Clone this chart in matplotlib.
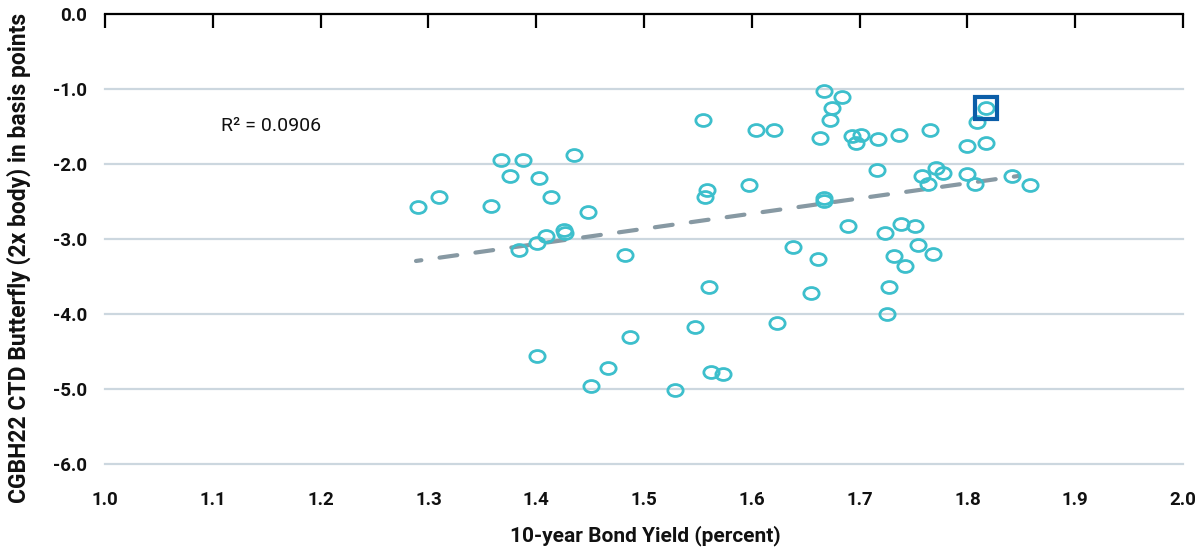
import matplotlib
matplotlib.use("Agg")
import matplotlib.pyplot as plt
from matplotlib.path import Path
from matplotlib.transforms import Affine2D
from matplotlib import font_manager as fm

# ---------------- data ----------------
bond_yield = [1.290, 1.310, 1.358, 1.367, 1.388, 1.376, 1.403, 1.414, 1.435, 1.448,
              1.384, 1.401, 1.409, 1.426, 1.427, 1.482, 1.401, 1.487, 1.467, 1.451,
              1.529, 1.555, 1.558, 1.557, 1.560, 1.547, 1.562, 1.573, 1.597, 1.604,
              1.621, 1.638, 1.623, 1.655, 1.661, 1.667, 1.684, 1.674, 1.673, 1.663,
              1.667, 1.667, 1.693, 1.701, 1.697, 1.717, 1.737, 1.716, 1.689, 1.724,
              1.738, 1.751, 1.732, 1.742, 1.754, 1.768, 1.727, 1.725, 1.758, 1.763,
              1.771, 1.777, 1.765, 1.800, 1.809, 1.817, 1.817, 1.800, 1.807, 1.841,
              1.858]
butterfly = [-2.58, -2.44, -2.56, -1.95, -1.95, -2.17, -2.19, -2.45, -1.89, -2.64,
             -3.15, -3.06, -2.96, -2.89, -2.93, -3.22, -4.57, -4.31, -4.72, -4.96,
             -5.02, -1.42, -2.35, -2.45, -3.65, -4.18, -4.78, -4.80, -2.29, -1.55,
             -1.55, -3.11, -4.12, -3.72, -3.27, -1.03, -1.11, -1.26, -1.42, -1.66,
             -2.46, -2.50, -1.63, -1.62, -1.72, -1.67, -1.62, -2.09, -2.83, -2.92,
             -2.80, -2.83, -3.23, -3.36, -3.09, -3.20, -3.64, -4.01, -2.16, -2.27,
             -2.06, -2.12, -1.55, -1.76, -1.45, -1.72, -1.26, -2.14, -2.27, -2.16,
             -2.28]
highlight_x = [1.817]
highlight_y = [-1.26]
trend_x = [1.2885, 1.8472]
trend_y = [-3.297, -2.164]
x_ticks = [1.0, 1.1, 1.2, 1.3, 1.4, 1.5, 1.6, 1.7, 1.8, 1.9, 2.0]
y_ticks = [0.0, -1.0, -2.0, -3.0, -4.0, -5.0, -6.0]
r2_text = "R² = 0.0906"
x_label = "10-year Bond Yield (percent)"
y_label = "CGBH22 CTD Butterfly (2x body) in basis points"

# ---------------- fonts ----------------
names = {f.name for f in fm.fontManager.ttflist}
font = "Liberation Sans Narrow" if "Liberation Sans Narrow" in names else "Roboto"
plt.rcParams["font.family"] = [font, "DejaVu Sans"]

TEAL = "#3DBFCC"
BLUE = "#0B5EA8"
GRID = "#CCD7DF"
TEXT = "#111111"

fig = plt.figure(figsize=(11.99, 5.5), dpi=100)
ax = fig.add_axes([105 / 1199, 1 - 463.7 / 550, (1183 - 105) / 1199, (463.7 - 13.7) / 550])
ax.set_xlim(1.0, 2.0)
ax.set_ylim(-6.0, 0.0)

# horizontal grid
for yv in y_ticks[1:]:
    ax.axhline(yv, color=GRID, lw=1.6, zorder=0, clip_on=False)

# spines
for s in ["left", "right", "bottom"]:
    ax.spines[s].set_visible(False)
ax.spines["top"].set_color("black")
ax.spines["top"].set_linewidth(1.6)

ax.set_xticks(x_ticks)
ax.set_xticklabels([f"{v:.1f}" for v in x_ticks])
ax.set_yticks(y_ticks)
ax.set_yticklabels([f"{v:.1f}" for v in y_ticks])
ax.tick_params(axis="x", top=True, bottom=False, labeltop=False, labelbottom=True,
               direction="in", length=10, width=1.6, color="black", pad=20)
ax.tick_params(axis="y", left=False, length=0, pad=13)
for lab in ax.get_xticklabels() + ax.get_yticklabels():
    lab.set_fontweight("bold")
    lab.set_fontsize(13.5)
    lab.set_color(TEXT)

# ellipse marker
ell = Path.unit_circle().transformed(Affine2D().scale(1.0, 0.78))

ax.plot(trend_x, trend_y, color="#8799A3", lw=3, linestyle=(3.0, (4.3, 4.4)),
        dash_capstyle="round", solid_capstyle="round", zorder=2)
ax.plot(bond_yield, butterfly, linestyle="none", marker=ell, markersize=11,
        markerfacecolor="none", markeredgecolor=TEAL, markeredgewidth=2.0, zorder=3,
        clip_on=False)
ax.plot(highlight_x, highlight_y, linestyle="none", marker="s", markersize=16.5,
        markerfacecolor="none", markeredgecolor=BLUE, markeredgewidth=3.0, zorder=4)

ax.text(1.108, -1.5, r2_text, fontsize=14, color=TEXT, va="center", ha="left")

fig.text(645 / 1199, 1 - 535.5 / 550, x_label, fontsize=15, fontweight="bold",
         color=TEXT, ha="center", va="center")
fig.text(19 / 1199, 1 - 258 / 550, y_label, rotation=90, fontsize=16.5,
         fontweight="bold", color=TEXT, ha="center", va="center")

fig.savefig("out.png", dpi=100)
